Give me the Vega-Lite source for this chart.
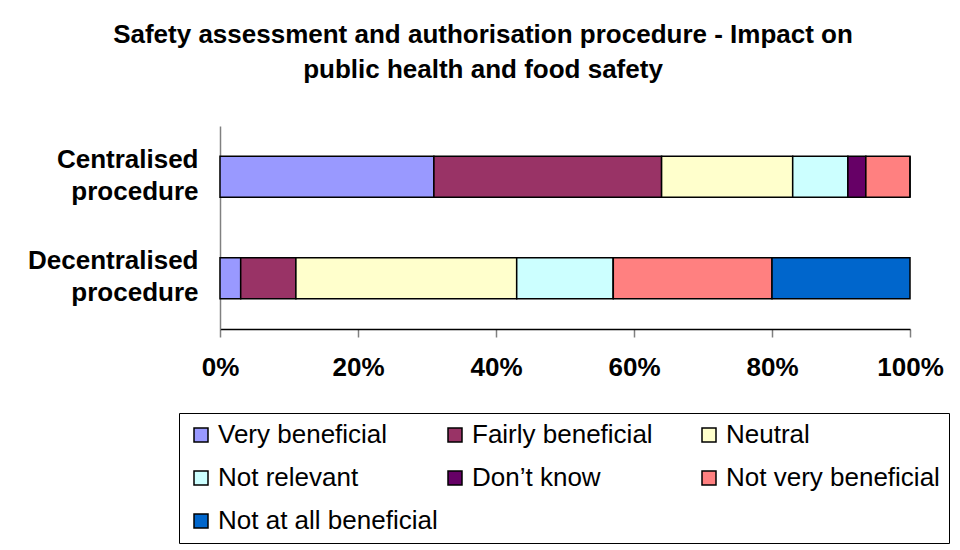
{
  "$schema": "https://vega.github.io/schema/vega-lite/v6.json",
  "autosize": "none",
  "width": 690,
  "height": 203,
  "padding": {"left": 220, "top": 126, "right": 50, "bottom": 221},
  "background": "white",
  "title": {
    "text": ["Safety assessment and authorisation procedure - Impact on", "public health and food safety"],
    "font": "Liberation Sans",
    "fontSize": 26,
    "fontWeight": "bold",
    "lineHeight": 35,
    "color": "black",
    "anchor": "middle",
    "frame": "group",
    "dx": -82,
    "offset": 43
  },
  "data": {
    "values": [
      {"procedure": "Centralised procedure", "response": "Very beneficial", "rank": 1, "pct": 31},
      {"procedure": "Centralised procedure", "response": "Fairly beneficial", "rank": 2, "pct": 33},
      {"procedure": "Centralised procedure", "response": "Neutral", "rank": 3, "pct": 19},
      {"procedure": "Centralised procedure", "response": "Not relevant", "rank": 4, "pct": 8},
      {"procedure": "Centralised procedure", "response": "Don’t know", "rank": 5, "pct": 2.6},
      {"procedure": "Centralised procedure", "response": "Not very beneficial", "rank": 6, "pct": 6.4},
      {"procedure": "Centralised procedure", "response": "Not at all beneficial", "rank": 7, "pct": 0},
      {"procedure": "Decentralised procedure", "response": "Very beneficial", "rank": 1, "pct": 3},
      {"procedure": "Decentralised procedure", "response": "Fairly beneficial", "rank": 2, "pct": 8},
      {"procedure": "Decentralised procedure", "response": "Neutral", "rank": 3, "pct": 32},
      {"procedure": "Decentralised procedure", "response": "Not relevant", "rank": 4, "pct": 14},
      {"procedure": "Decentralised procedure", "response": "Don’t know", "rank": 5, "pct": 0},
      {"procedure": "Decentralised procedure", "response": "Not very beneficial", "rank": 6, "pct": 23},
      {"procedure": "Decentralised procedure", "response": "Not at all beneficial", "rank": 7, "pct": 20}
    ]
  },
  "mark": {"type": "bar", "size": 41, "stroke": "black", "strokeWidth": 1.5},
  "encoding": {
    "y": {
      "field": "procedure",
      "type": "nominal",
      "sort": ["Centralised procedure", "Decentralised procedure"],
      "scale": {"paddingInner": 0, "paddingOuter": 0},
      "axis": {
        "title": null,
        "labelExpr": "split(datum.label, ' ')",
        "labelFont": "Liberation Sans",
        "labelFontSize": 26,
        "labelFontWeight": "bold",
        "labelColor": "black",
        "labelLineHeight": 32,
        "labelPadding": 22,
        "labelOffset": -17,
        "labelBaseline": "middle",
        "ticks": false,
        "domainColor": "#808080",
        "domainWidth": 1.5,
        "grid": false
      }
    },
    "x": {
      "field": "pct",
      "type": "quantitative",
      "stack": "normalize",
      "scale": {"domain": [0, 1], "nice": false},
      "axis": {
        "title": null,
        "format": ".0%",
        "values": [0, 0.2, 0.4, 0.6, 0.8, 1],
        "labelFont": "Liberation Sans",
        "labelFontSize": 26,
        "labelFontWeight": "bold",
        "labelColor": "black",
        "labelFlush": false,
        "labelPadding": 17,
        "tickSize": 8,
        "tickColor": "#808080",
        "tickWidth": 1.5,
        "domainColor": "black",
        "domainWidth": 1.5,
        "grid": false
      }
    },
    "color": {
      "field": "response",
      "type": "nominal",
      "scale": {
        "domain": ["Very beneficial", "Fairly beneficial", "Neutral", "Not relevant", "Don’t know", "Not very beneficial", "Not at all beneficial"],
        "range": ["#9999FF", "#993366", "#FFFFCC", "#CCFFFF", "#660066", "#FF8080", "#0066CC"]
      },
      "legend": {
        "title": null,
        "orient": "none",
        "legendX": -41,
        "legendY": 287,
        "direction": "horizontal",
        "columns": 3,
        "gridAlign": "all",
        "columnPadding": 4,
        "rowPadding": 17,
        "padding": 9,
        "strokeColor": "black",
        "symbolType": "square",
        "symbolSize": 196,
        "symbolStrokeColor": "black",
        "symbolStrokeWidth": 1.5,
        "symbolOpacity": 1,
        "symbolOffset": 0,
        "labelOffset": 4,
        "labelFont": "Liberation Sans",
        "labelFontSize": 26,
        "labelColor": "black",
        "labelLimit": 400
      }
    },
    "order": {"field": "rank", "type": "quantitative"}
  },
  "config": {
    "view": {"stroke": null}
  }
}
